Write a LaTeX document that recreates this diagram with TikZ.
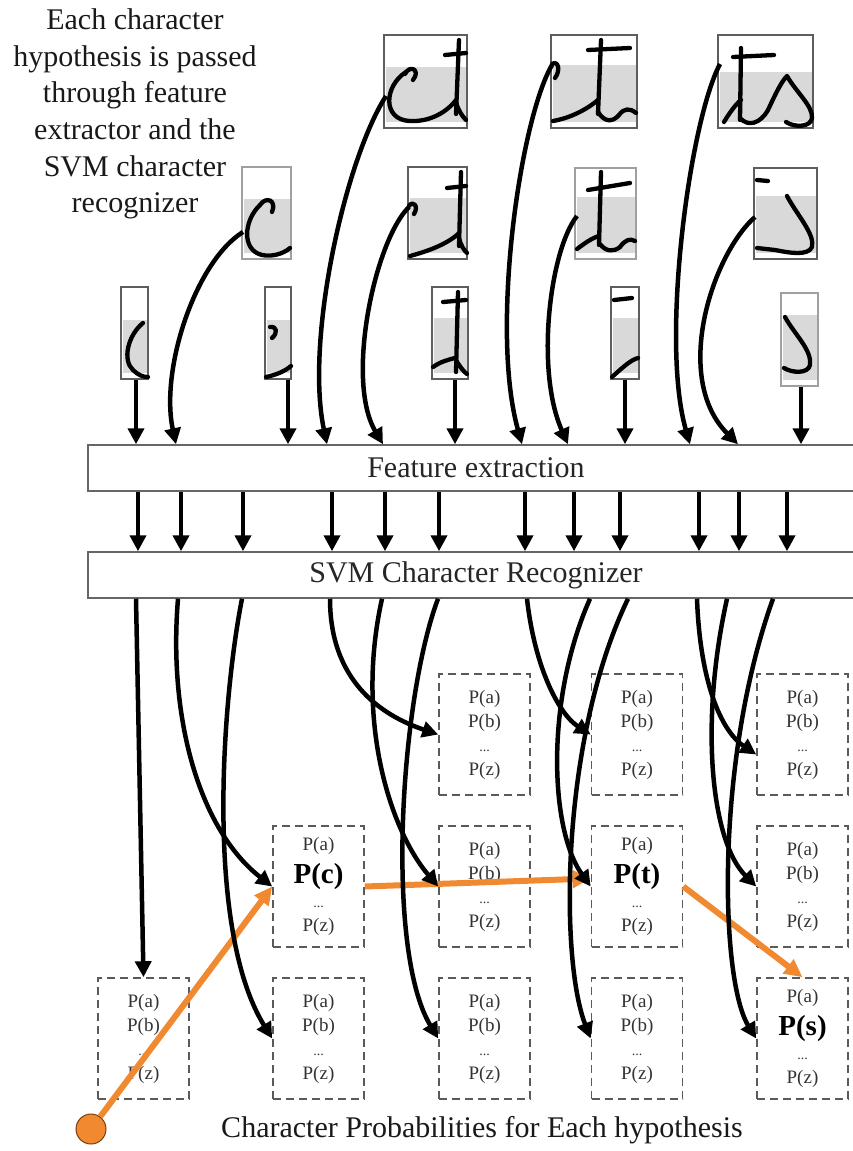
\documentclass[tikz,border=0pt]{standalone}
\usepackage{fontspec}
\setmainfont{Liberation Serif}
\usetikzlibrary{
  arrows.meta,
  positioning
}
\definecolor{hwshade}{HTML}{D9D9D9}
\definecolor{hwframe}{HTML}{5E5E5E}
\definecolor{hwlight}{HTML}{A0A0A0}
\definecolor{pathorange}{HTML}{F0892F}
\definecolor{pathedge}{HTML}{7A3E10}
\definecolor{dashgray}{HTML}{5A5A5A}

% contents of the probability boxes
\newcommand{\plist}{P(a)\\P(b)\\{\fontsize{14}{14}\selectfont ...}\\P(z)}
\newcommand{\pbest}[1]{P(a)\\[8pt]{\fontsize{29}{29}\selectfont\bfseries\color{black} P(#1)}\\{\fontsize{14}{14}\selectfont ...}\\P(z)}

% crop: name, x1, y1, x2, y2, top of grey part, frame colour
\newcommand{\cropbox}[7]{%
  \fill[hwshade] (#2+1.5,#6) rectangle (#4-1.5,#5-6);
  \node[crop, draw=#7, minimum width=#4-#2, minimum height=#5-#3]
    (#1) at ({(#2+#4)/2},{(#3+#5)/2}) {};
}

\begin{document}
\begin{tikzpicture}[
  x=1pt, y=-1pt,
  note/.style={font=\fontsize{30}{36.6}\selectfont, align=center, inner sep=0pt, text=black!90},
  stage/.style={draw=black!60, line width=1.5pt, fill=white, minimum width=776pt,
    minimum height=46pt, inner sep=0pt, font=\fontsize{30}{36}\selectfont, text=black!85},
  crop/.style={line width=2pt, inner sep=0pt},
  ink/.style={line width=4.3pt, line cap=round, line join=round},
  probbox/.style={draw=dashgray, dash pattern=on 8pt off 5pt, line width=1.6pt,
    minimum width=91pt, minimum height=121pt, inner sep=0pt, align=center,
    font=\fontsize{19}{24}\selectfont, text=black!80},
  flow/.style={line width=4.5pt, -{Triangle[length=16pt,width=16pt]}},
  best/.style={line width=6pt, draw=pathorange, -{Triangle[length=18pt,width=17pt]}}
]
  \useasboundingbox (0,0) rectangle (853,1151);

  \node[note] (intro) at (135,114)
    {Each character\\hypothesis is passed\\through feature\\extractor and the\\SVM character\\recognizer};

  % Stages
  \node[stage] (fe) at (476,468) {Feature extraction};
  \node[stage] (svm) at (476,575) {SVM Character Recognizer};

  % Probability boxes
  \foreach \n/\x/\y in {pA3/143.5/1038.5, pB3/318.5/1038.5,
      pC1/484.5/734.5, pC2/484.5/886.5, pC3/484.5/1038.5,
      pD1/637/734.5, pD3/637/1038.5,
      pE1/802.5/734.5, pE2/802.5/886.5}
    \node[probbox] (\n) at (\x,\y) {\plist};
  \node[probbox] (pB2) at (318.5,886.5) {\pbest{c}};
  \node[probbox] (pD2) at (637,886.5) {\pbest{t}};
  \node[probbox] (pE3) at (802.5,1038.5) {\pbest{s}};

  \node[note] (caption) at (482,1130) {Character Probabilities for Each hypothesis};

  % Best path
  \node[circle, fill=pathorange, draw=pathedge, line width=1pt, minimum size=30pt,
    inner sep=0pt] (origin) at (91,1129) {};
  \draw[best] (origin) -- (pB2.west);
  \draw[best] (pB2.east) -- ([yshift=8pt]pD2.west);
  \draw[best] (pD2.east) -- (pE3.north);

  % Feature extraction -> SVM
  \foreach \x in {138,181,243,332,385,439,525,574,620,699,739,787}
    \draw[flow] (fe.south -| \x,0) -- (svm.north -| \x,0);

  % SVM -> probabilities
  \foreach \x [count=\i] in {136,178,242,330,382,438,527,590,628,697,727,773}
    \coordinate (sout\i) at (svm.south -| \x,0);
  \draw[flow] (sout1) -- (pA3.north);
  \draw[flow] (sout2) .. controls (168,720) and (200,830) .. (pB2.west);
  \draw[flow] (sout3) .. controls (222,700) and (205,930) .. (pB3.west);
  \draw[flow] (sout4) .. controls (330,680) and (380,715) .. (pC1.west);
  \draw[flow] (sout5) .. controls (355,720) and (390,830) .. (pC2.west);
  \draw[flow] (sout6) .. controls (400,700) and (385,950) .. (pC3.west);
  \draw[flow] (sout7) .. controls (535,670) and (560,715) .. (pD1.west);
  \draw[flow] (sout8) .. controls (545,700) and (550,830) .. (pD2.west);
  \draw[flow] (sout9) .. controls (560,740) and (560,960) .. (pD3.west);
  \draw[flow] (sout10) .. controls (700,680) and (720,730) .. ([yshift=-20pt]pE1.west);
  \draw[flow] (sout11) .. controls (700,720) and (710,840) .. (pE2.west);
  \draw[flow] (sout12) .. controls (715,760) and (720,980) .. (pE3.west);

  % Character crops
  \cropbox{r1a}{384}{35}{467}{128}{67}{hwframe}
  \cropbox{r1b}{551}{35}{637}{128}{65}{hwframe}
  \cropbox{r1c}{718}{35}{813}{128}{72}{hwframe}
  \cropbox{r2a}{242}{167}{291}{259}{199}{hwlight}
  \cropbox{r2b}{408}{167}{467}{259}{198}{hwframe}
  \cropbox{r2c}{575}{168}{636}{259}{197}{hwlight}
  \cropbox{r2d}{754}{168}{817}{259}{196}{hwframe}
  \cropbox{r3a}{121}{287}{148}{379}{320}{hwframe}
  \cropbox{r3b}{265}{287}{291}{379}{320}{hwframe}
  \cropbox{r3c}{432}{287}{468}{379}{318}{hwframe}
  \cropbox{r3d}{611}{287}{639}{379}{318}{hwframe}
  \cropbox{r3e}{781}{293}{818}{386}{315}{hwlight}

  % handwriting
  \draw[ink] (405,74) .. controls (410,64) and (421,70) .. (413,80);
  \draw[ink] (406,72) .. controls (384,86) and (382,120) .. (410,121)
    .. controls (430,122) and (447,112) .. (456,100);
  \draw[ink] (459,40) -- (456,114);
  \draw[ink] (445,55) -- (466,53);
  \draw[ink] (456,102) .. controls (458,110) and (462,116) .. (466,120);

  \draw[ink] (552,64) .. controls (558,60) and (561,70) .. (555,78);
  \draw[ink] (553,121) .. controls (570,118) and (586,110) .. (598,100);
  \draw[ink] (601,40) -- (598,114);
  \draw[ink] (588,50) -- (630,48);
  \draw[ink] (598,112) .. controls (605,123) and (613,122) .. (619,115)
    .. controls (624,108) and (630,108) .. (636,113);

  \draw[ink] (741,48) -- (740,120);
  \draw[ink] (733,57) -- (774,55);
  \draw[ink] (724,122) .. controls (730,112) and (736,104) .. (741,100);
  \draw[ink] (740,118) .. controls (748,127) and (760,124) .. (768,110)
    .. controls (775,95) and (781,82) .. (787,76)
    .. controls (796,92) and (813,106) .. (812,118)
    .. controls (811,127) and (795,128) .. (786,122);

  \draw[ink] (272,212) .. controls (277,200) and (266,196) .. (260,205)
    .. controls (244,220) and (241,250) .. (262,255)
    .. controls (272,257) and (283,254) .. (290,248);

  \draw[ink] (409,206) .. controls (413,200) and (419,206) .. (414,214);
  \draw[ink] (410,256) .. controls (425,252) and (446,245) .. (458,234);
  \draw[ink] (461,172) -- (459,246);
  \draw[ink] (447,188) -- (466,186);
  \draw[ink] (459,238) .. controls (461,246) and (464,250) .. (467,253);

  \draw[ink] (601,172) -- (599,245);
  \draw[ink] (588,190) -- (630,183);
  \draw[ink] (577,249) .. controls (585,243) and (592,238) .. (599,236);
  \draw[ink] (600,244) .. controls (606,252) and (614,252) .. (620,247)
    .. controls (625,240) and (630,238) .. (635,241);

  \draw[ink] (757,180) -- (768,181);
  \draw[ink] (787,196) .. controls (797,215) and (815,234) .. (812,247)
    .. controls (808,256) and (790,253) .. (775,250) -- (757,248);

  \draw[ink] (143,323) .. controls (128,335) and (122,360) .. (133,370)
    .. controls (138,375) and (143,377) .. (148,377);

  \draw[ink] (270,327) .. controls (277,326) and (278,333) .. (272,338);
  \draw[ink] (266,377) .. controls (275,375) and (284,372) .. (291,366);

  \draw[ink] (458,292) -- (456,372);
  \draw[ink] (443,302) -- (466,300);
  \draw[ink] (433,367) .. controls (440,362) and (447,360) .. (455,358);
  \draw[ink] (456,360) .. controls (460,367) and (464,372) .. (467,374);

  \draw[ink] (614,300) -- (632,298);
  \draw[ink] (612,377) .. controls (620,370) and (630,360) .. (638,358);

  \draw[ink] (785,317) .. controls (795,335) and (812,350) .. (810,365)
    .. controls (808,374) and (792,373) .. (784,368);

  % Crops -> feature extraction
  \foreach \x [count=\i] in {136,176,288,327,383,455,522,568,625,690,738,801}
    \coordinate (fin\i) at (fe.north -| \x,0);
  \coordinate (r1a-tail) at (386,96);
  \coordinate (r1b-tail) at (552,65);
  \coordinate (r1c-tail) at (720,64);
  \coordinate (r2a-tail) at (243,232);
  \coordinate (r2b-tail) at (409,207);
  \coordinate (r2c-tail) at (577,216);
  \coordinate (r2d-tail) at (755,217);

  \draw[flow] (r3a.south -| fin1) -- (fin1);
  \draw[flow] (r2a-tail) .. controls (195,262) and (160,370) .. (fin2);
  \draw[flow] (r3b.south -| fin3) -- (fin3);
  \draw[flow] (r1a-tail) .. controls (345,160) and (305,340) .. (fin4);
  \draw[flow] (r2b-tail) .. controls (375,240) and (345,380) .. (fin5);
  \draw[flow] (r3c.south -| fin6) -- (fin6);
  \draw[flow] (r1b-tail) .. controls (520,120) and (490,330) .. (fin7);
  \draw[flow] (r2c-tail) .. controls (550,250) and (535,370) .. (fin8);
  \draw[flow] (r3d.south -| fin9) -- (fin9);
  \draw[flow] (r1c-tail) .. controls (690,120) and (660,340) .. (fin10);
  \draw[flow] (r2d-tail) .. controls (712,255) and (672,378) .. (fin11);
  \draw[flow] (r3e.south -| fin12) -- (fin12);

\end{tikzpicture}
\end{document}
